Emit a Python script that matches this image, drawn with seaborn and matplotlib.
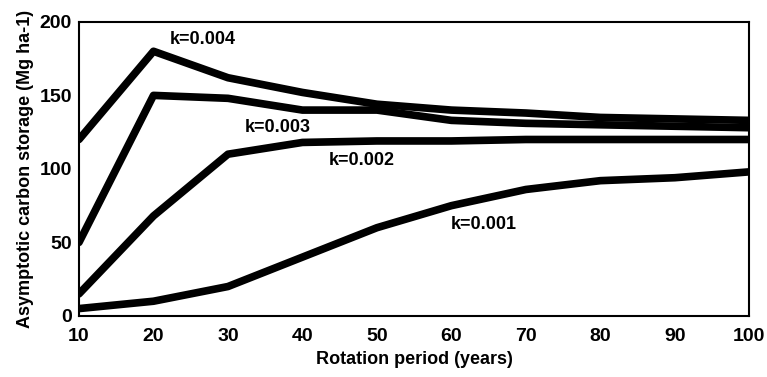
import seaborn as sns
import matplotlib.pyplot as plt
import pandas as pd

years = [10, 20, 30, 40, 50, 60, 70, 80, 90, 100]
k004 = [120, 180, 162, 152, 144, 140, 138, 135, 134, 133]
k003 = [50, 150, 148, 140, 140, 133, 131, 130, 129, 128]
k002 = [15, 68, 110, 118, 119, 119, 120, 120, 120, 120]
k001 = [5, 10, 20, 40, 60, 75, 86, 92, 94, 98]
labels = ["k=0.004", "k=0.003", "k=0.002", "k=0.001"]

df = pd.DataFrame({"year": years, labels[0]: k004, labels[1]: k003,
                   labels[2]: k002, labels[3]: k001})
df = df.melt(id_vars="year", var_name="k", value_name="carbon")

sns.set_theme(style="white")
plt.rcParams["font.family"] = ["Liberation Sans", "DejaVu Sans"]
plt.rcParams["text.color"] = "black"
plt.rcParams["axes.labelcolor"] = "black"
plt.rcParams["xtick.color"] = "black"
plt.rcParams["ytick.color"] = "black"

f, ax = plt.subplots(figsize=(7.67, 3.77), dpi=100)
sns.lineplot(data=df, x="year", y="carbon", units="k", estimator=None,
             color="black", linewidth=5.5, ax=ax, legend=False)

# label spots (x, y) in data units
spots = [(22.2, 188), (32.3, 128), (43.5, 106), (59.9, 62)]
for lab, (x, y) in zip(labels, spots):
    ax.text(x, y, lab, fontsize=13, fontweight="bold", ha="left", va="center")

ax.set(xlim=(10, 100), ylim=(0, 200))
ax.set_xticks(range(10, 101, 10))
ax.set_yticks(range(0, 201, 50))
ax.tick_params(labelsize=14, length=0)
ax.tick_params(axis="x", pad=9)
ax.tick_params(axis="y", pad=5)
for t in ax.get_xticklabels() + ax.get_yticklabels():
    t.set_fontweight("bold")
for s in ax.spines.values():
    s.set_color("black")
    s.set_linewidth(1.5)
ax.set_xlabel("Rotation period (years)", fontsize=13, fontweight="bold", labelpad=4)
ax.set_ylabel("Asymptotic carbon storage (Mg ha-1)", fontsize=13, fontweight="bold", labelpad=4)

plt.subplots_adjust(left=0.103, right=0.977, top=0.942, bottom=0.162)
plt.savefig("out.png", dpi=100)
